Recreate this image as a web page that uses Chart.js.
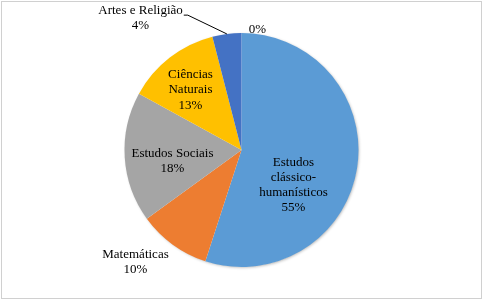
<!DOCTYPE html>
<html><head><meta charset="utf-8">
<script src="https://cdn.jsdelivr.net/npm/chart.js@4/dist/chart.umd.min.js"></script>
<style>html,body{margin:0;padding:0;background:#fff}#wrap{width:483px;height:301px;position:relative}
.pre{font-family:"Liberation Serif";position:absolute;left:-999px;top:0}</style>
</head><body><div id="wrap"><canvas id="c" width="483" height="301"></canvas></div><span class="pre">Aé</span>
<script>
const categories = ["Estudos clássico-humanísticos","Matemáticas","Estudos Sociais","Ciências Naturais","Artes e Religião","Outros"];
const labelLines = [["Estudos","clássico-","humanísticos"],["Matemáticas"],["Estudos Sociais"],["Ciências","Naturais"],["Artes e Religião"],[]];
const values = [55,10,18,13,4,0];
const colors = ["#5B9BD5","#ED7D31","#A5A5A5","#FFC000","#4472C4","#70AD47"];
// label placement relative to pie radius (style)
const labelOffsets = [[0.444,0.30],[-0.906,0.957],[-0.59,0.094],[-0.436,-0.513],[-0.863,-1.13],[0.137,-1.033]];

const total = values.reduce((a,b)=>a+b,0);
const FONT = '13px "Liberation Serif", "Times New Roman", serif';
const frame = {id:'frame', beforeDraw(chart){const c=chart.ctx;c.save();c.fillStyle='#fff';c.fillRect(0,0,chart.width,chart.height);c.strokeStyle='#d0d0d0';c.lineWidth=1;c.strokeRect(1.5,1.5,chart.width-3,chart.height-4);c.restore();}};
const shadow = {id:'shadow',
  beforeDatasetsDraw(chart){
    const a0=chart.getDatasetMeta(0).data[0]; if(!a0) return;
    const c=chart.ctx;c.save();c.shadowColor='rgba(0,0,0,0.3)';c.shadowBlur=3;c.shadowOffsetX=1;c.shadowOffsetY=1;
    c.fillStyle='#fff';c.beginPath();c.arc(a0.x,a0.y,a0.outerRadius-0.5,0,Math.PI*2);c.fill();c.restore();}};
const labels = {id:'labels', afterDraw(chart){
  const c=chart.ctx; const meta=chart.getDatasetMeta(0); const a0=meta.data[0];
  const cx=a0.x, cy=a0.y, r=a0.outerRadius;
  c.save(); c.font=FONT; c.fillStyle='#000'; c.textAlign='center'; c.textBaseline='middle';
  const lh=15.3;
  values.forEach((v,i)=>{
    const lines=labelLines[i].concat([Math.round(v/total*100)+'%']);
    const x=cx+labelOffsets[i][0]*r, y=cy+labelOffsets[i][1]*r;
    const y0=y-(lines.length-1)*lh/2;
    lines.forEach((t,k)=>c.fillText(t,x,y0+k*lh));
  });
  const ai=meta.data[4];
  const mid=(ai.startAngle+ai.endAngle)/2;
  const ex=cx+Math.cos(mid)*r, ey=cy+Math.sin(mid)*r;
  const lx=cx+labelOffsets[4][0]*r, ly=cy+labelOffsets[4][1]*r-lh/2;
  const tw=c.measureText(labelLines[4][0]).width;
  c.strokeStyle='#000'; c.lineWidth=1; c.beginPath();
  c.moveTo(lx+tw/2+1,ly+5); c.lineTo(lx+tw/2+5,ly+5); c.lineTo(ex,ey); c.stroke();
  c.restore();
}};
function draw(){
new Chart(document.getElementById('c'),{
  type:'pie',
  data:{labels:categories,datasets:[{data:values,backgroundColor:colors,borderWidth:0}]},
  options:{responsive:false,animation:false,
    layout:{padding:{top:33,bottom:34,left:0,right:0}},
    plugins:{legend:{display:false},tooltip:{enabled:false}}},
  plugins:[frame,shadow,labels]
});
}
document.fonts.load(FONT).then(draw, draw);
</script></body></html>
